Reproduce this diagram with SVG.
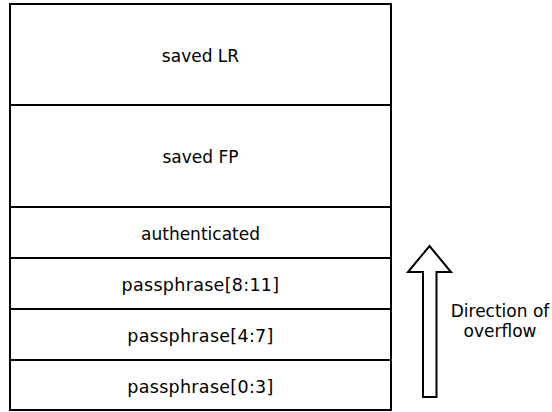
<svg xmlns="http://www.w3.org/2000/svg" width="552" height="412" viewBox="0 0 552 412">
<style>
.cell{fill:#fff;stroke:#000;stroke-width:2}
.t{font-family:"DejaVu Sans",Verdana,sans-serif;font-size:17px;fill:#000;text-anchor:middle}
.pp{font-size:17.5px;letter-spacing:0.3px}
</style>
<rect width="552" height="412" fill="#fff"/>
<g id="saved-lr"><rect class="cell" x="10" y="4" width="381" height="101"/><text class="t" x="200.5" y="61.5">saved LR</text></g>
<g id="saved-fp"><rect class="cell" x="10" y="105" width="381" height="102"/><text class="t" x="200.5" y="163">saved FP</text></g>
<g id="authenticated"><rect class="cell" x="10" y="207" width="381" height="51"/><text class="t" x="200.5" y="239.5">authenticated</text></g>
<g id="pp-8-11"><rect class="cell" x="10" y="258" width="381" height="51"/><text class="t pp" x="200.5" y="291">passphrase[8:11]</text></g>
<g id="pp-4-7"><rect class="cell" x="10" y="309" width="381" height="51"/><text class="t pp" x="200.5" y="342">passphrase[4:7]</text></g>
<g id="pp-0-3"><rect class="cell" x="10" y="360" width="381" height="50"/><text class="t pp" x="200.5" y="393">passphrase[0:3]</text></g>
<g id="connectors"></g>
<g id="overflow-arrow">
<polygon class="cell" points="429.5,246 451,272 436.5,272 436.5,397 423,397 423,272 408,272"/>
<text class="t" x="500" y="317">Direction of</text>
<text class="t" x="500" y="337">overflow</text>
</g>
</svg>
